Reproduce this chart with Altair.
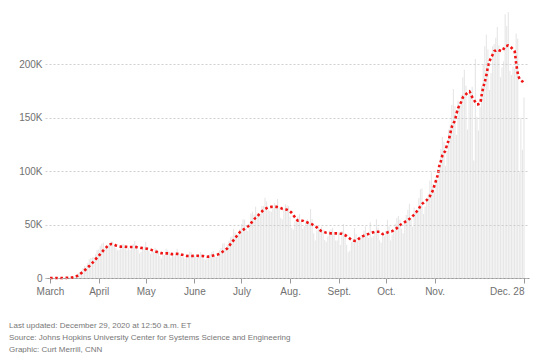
import altair as alt
import pandas as pd

# Daily new cases (thousands), March 1 - Dec 28, 2020
mar = [0.01, 0.02, 0.03, 0.03, 0.07, 0.08, 0.11, 0.12, 0.2, 0.29, 0.39, 0.5, 0.6, 0.72, 0.8, 1.2,
       1.7, 2.9, 4.6, 5.6, 6.7, 9.4, 11.2, 11.0, 13.7, 17.5, 18.8, 19.5, 19.6, 22.1, 26.3]
apr = [26.5, 29.9, 32.1, 33.3, 28.2, 29.6, 30.8, 32.4, 34.3, 33.9, 29.9, 27.8, 25.8, 26.5, 29.4,
       31.5, 31.9, 30.8, 26.1, 28.2, 26.2, 28.7, 31.8, 34.7, 30.9, 26.6, 22.9, 24.4, 27.3, 29.5]
may = [33.9, 29.1, 25.5, 22.7, 24.3, 24.5, 28.3, 26.9, 25.1, 20.5, 18.2, 22.1, 21.5, 27.3, 26.0,
       24.3, 18.9, 22.6, 20.3, 22.6, 27.5, 23.6, 22.8, 19.8, 19.4, 18.3, 19.9, 22.0, 24.7, 24.0, 20.1]
jun = [21.2, 19.9, 20.0, 21.5, 24.2, 22.1, 18.3, 17.2, 18.6, 21.5, 22.5, 24.2, 25.1, 19.6, 19.7,
       23.6, 26.1, 28.1, 32.4, 32.5, 26.5, 31.2, 34.8, 38.1, 39.0, 46.0, 42.5, 40.7, 40.7, 45.8]
jul = [50.6, 55.0, 54.5, 47.0, 44.0, 50.8, 60.3, 62.1, 59.5, 66.6, 61.3, 59.4, 58.7, 67.5, 67.4,
       75.2, 71.6, 63.9, 62.9, 62.0, 65.7, 70.0, 68.5, 74.0, 66.2, 56.1, 54.9, 65.1, 69.0, 68.0, 67.5]
aug = [57.5, 47.0, 45.4, 53.0, 52.8, 57.5, 60.0, 53.0, 46.0, 48.6, 53.1, 54.9, 52.0, 64.6, 55.0,
       42.0, 35.1, 44.4, 47.1, 44.6, 48.0, 45.5, 35.6, 34.0, 38.9, 44.2, 45.3, 47.0, 43.0, 35.0, 35.0]
sep = [42.7, 30.9, 44.1, 50.6, 42.1, 31.2, 24.2, 25.4, 33.8, 36.1, 46.8, 41.2, 34.3, 34.9, 39.3,
       39.3, 44.4, 48.4, 42.7, 37.5, 52.1, 38.0, 39.3, 44.0, 55.0, 47.3, 35.4, 33.1, 42.6, 39.2]
oct_ = [44.0, 54.5, 48.4, 35.2, 40.5, 44.0, 50.7, 56.2, 58.0, 54.6, 46.0, 42.0, 52.3, 59.1, 64.0,
        69.5, 56.7, 48.0, 66.0, 61.0, 63.0, 75.0, 83.0, 83.7, 60.0, 67.0, 73.0, 79.0, 91.0, 99.0, 88.0]
nov = [81, 93, 92, 102, 121, 132, 127, 105, 119, 139, 144, 162, 177, 161, 134,
       166, 162, 171, 188, 195, 180, 139, 172, 175, 179, 110, 205, 151, 138, 160]
dec = [180, 200, 217, 228, 214, 176, 192, 217, 219, 225, 235, 218, 188, 197,
       203, 247, 236, 249, 194, 190, 198, 196, 229, 224, 99, 150, 120, 169]

# Moving average (thousands)
avg_mar = [0, 0, 0, 0, 0, 0, 0, 0, 0, 0.1, 0.1, 0.2, 0.2, 0.3, 0.4, 0.6, 1.0, 1.7, 2.6, 3.5, 4.6,
           5.8, 7.0, 8.4, 9.8, 11.2, 12.7, 14.2, 15.8, 17.5, 19.0]
avg_apr = [20.7, 22.4, 24.0, 25.8, 27.4, 28.9, 30.3, 31.3, 31.8, 31.7, 31.2, 30.5, 30.0, 29.6, 29.4,
           29.3, 29.3, 29.2, 29.1, 29.0, 29.0, 29.0, 29.0, 29.0, 28.9, 28.7, 28.5, 28.2, 28.0, 27.8]
avg_may = [27.6, 27.3, 26.9, 26.5, 26.1, 25.6, 25.0, 24.5, 24.0, 23.6, 23.3, 23.2, 23.1, 23.1, 23.1,
           23.0, 22.6, 22.4, 22.5, 22.7, 22.6, 22.4, 22.1, 21.8, 21.5, 21.1, 20.7, 20.6, 20.6, 20.6, 20.7]
avg_jun = [20.8, 20.8, 20.8, 20.7, 20.6, 20.6, 20.4, 20.1, 19.9, 20.0, 20.2, 20.6, 21.0, 21.4, 21.7,
           22.1, 22.8, 23.7, 24.6, 25.6, 26.7, 27.8, 29.7, 31.8, 33.7, 35.5, 37.4, 39.3, 41.2, 43.0]
avg_jul = [44.0, 45.0, 46.1, 47.1, 48.2, 49.3, 51.1, 53.0, 54.8, 56.3, 57.3, 59.2, 61.0, 62.3, 63.6,
           64.5, 65.4, 66.1, 66.4, 66.6, 66.7, 66.7, 66.6, 66.4, 66.0, 65.5, 64.8, 64.5, 64.2, 64.0, 63.3]
avg_aug = [62.2, 61.0, 59.0, 57.0, 55.3, 53.6, 53.6, 53.6, 53.6, 53.0, 52.5, 52.0, 51.4, 50.8, 50.2,
           49.3, 48.4, 47.4, 46.1, 44.9, 43.9, 43.4, 42.9, 42.4, 42.2, 42.0, 41.8, 41.8, 41.8, 41.8, 41.8]
avg_sep = [41.7, 41.5, 41.4, 40.7, 40.0, 39.3, 38.2, 37.0, 35.8, 35.2, 34.8, 34.6, 35.6, 37.0, 38.0,
           38.9, 39.6, 40.1, 40.7, 41.3, 41.8, 42.3, 42.8, 43.3, 43.3, 43.3, 43.3, 42.2, 41.1, 41.6]
avg_oct = [42.2, 42.7, 43.1, 43.5, 43.9, 44.8, 45.7, 46.7, 48.0, 49.5, 50.4, 51.3, 52.3, 53.3, 54.3,
           55.3, 56.6, 57.9, 59.4, 61.0, 63.0, 65.1, 67.2, 69.2, 70.5, 71.7, 72.9, 74.8, 76.6, 79.4, 82.2]
avg_nov = [86.9, 91.6, 96.3, 104.7, 109.3, 114.7, 117.2, 119.6, 125.2, 129.0, 135.2, 141.4, 144.5,
           147.7, 153.9, 158.9, 162.0, 165.1, 168.9, 170.5, 172.0, 173.5, 175.0, 172.5, 169.4, 167.0,
           164.8, 162.6, 162.8, 163.3]
avg_dec = [171.0, 178.2, 183.5, 189.7, 197.5, 202.8, 206.0, 209.0, 212.4, 213.0, 213.7, 213.2, 212.8,
           212.4, 214.5, 216.8, 217.3, 217.8, 217.0, 215.6, 214.0, 212.4, 201.0, 192.0, 187.0, 185.0,
           184.0, 182.0]

months = [mar, apr, may, jun, jul, aug, sep, oct_, nov, dec]
avg_months = [avg_mar, avg_apr, avg_may, avg_jun, avg_jul, avg_aug, avg_sep, avg_oct, avg_nov, avg_dec]

x_labels = ["March", "April", "May", "June", "July", "Aug.", "Sept.", "Oct.", "Nov.", "Dec. 28"]
y_ticks = [0, 50000, 100000, 150000, 200000]
y_labels = ["0", "50K", "100K", "150K", "200K"]
footer = [
    "Last updated: December 29, 2020 at 12:50 a.m. ET",
    "Source: Johns Hopkins University Center for Systems Science and Engineering",
    "Graphic: Curt Merrill, CNN",
]

daily = [v for m in months for v in m]
avg = [v for m in avg_months for v in m]
n = len(daily)
df = pd.DataFrame({
    "day": list(range(n)),
    "cases": [v * 1000 for v in daily],
    "avg": [v * 1000 for v in avg],
})

# tick positions: start of each month, and the final day
starts = []
acc = 0
for m in months[:-1]:
    starts.append(acc)
    acc += len(m)
x_ticks = starts + [n - 1]


def mapping_expr(ticks, labels):
    expr = "''"
    for t, l in reversed(list(zip(ticks, labels))):
        expr = f"datum.value == {t} ? '{l}' : " + expr
    return expr


FONT = "Liberation Sans"
LABEL = "#707070"

x_enc = alt.X(
    "day:Q",
    scale=alt.Scale(domain=[0, n - 1], nice=False, zero=False),
    axis=alt.Axis(
        values=x_ticks, labelExpr=mapping_expr(x_ticks, x_labels), title=None, grid=False,
        domainColor="#9a9a9a", tickColor="#9a9a9a", tickSize=5, labelColor=LABEL,
        labelFontSize=10, labelFont=FONT, labelPadding=3, labelFlush=False, labelOverlap=False,
        labelAlign={"condition": {"test": f"datum.value == {n - 1}", "value": "right"}, "value": "center"},
    ),
)
y_axis = alt.Axis(
    values=y_ticks, labelExpr=mapping_expr(y_ticks, y_labels), title=None, domain=False, ticks=False,
    gridDash=[2, 2], gridColor="#c4c4c4", gridWidth=0.8, labelColor=LABEL, labelFontSize=10,
    labelFont=FONT, labelPadding=3, zindex=1,
)
y_scale = alt.Scale(domain=[0, 250000], nice=False)

bars = alt.Chart(df).mark_bar(width=1.1, color="#e6e6e6").encode(
    x=x_enc, y=alt.Y("cases:Q", scale=y_scale, axis=y_axis)
)
line = alt.Chart(df).mark_line(
    color="#f01414", strokeWidth=2.6, strokeDash=[2.6, 2.6], interpolate="monotone"
).encode(x=x_enc, y=alt.Y("avg:Q", scale=y_scale, axis=y_axis))

texts = []
for i, t in enumerate(footer):
    texts.append(
        alt.Chart(pd.DataFrame({"t": [t]})).mark_text(
            align="left", baseline="middle", font=FONT, fontSize=8, color="#777777"
        ).encode(text="t:N", x=alt.value(-36), y=alt.value(315 + i * 12))
    )

chart = alt.layer(bars, line, *texts).properties(
    width=484, height=267,
    autosize=alt.AutoSizeParams(type="none"),
    padding={"left": 37, "top": 3, "right": 17, "bottom": 75},
).configure_view(strokeWidth=0)

chart.save("out.html", embed_options={"renderer": "svg", "actions": False})
